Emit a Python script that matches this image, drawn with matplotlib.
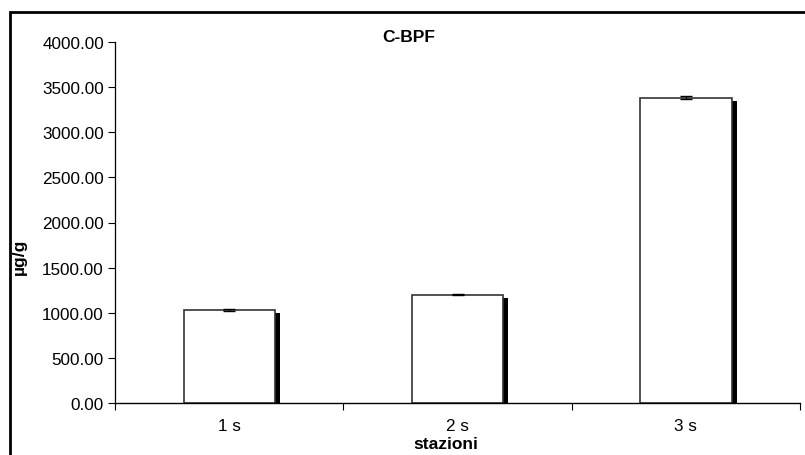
import matplotlib
matplotlib.use('Agg')
import matplotlib.pyplot as plt
import matplotlib.patches as mpatches
import matplotlib.patheffects as pe
import numpy as np

plt.rcParams['font.family'] = ['Liberation Sans', 'DejaVu Sans']

stations = ['1 s', '2 s', '3 s']
values = [1030.0, 1200.0, 3385.0]
errors = [8.0, 8.0, 15.0]
yticks = [0, 500, 1000, 1500, 2000, 2500, 3000, 3500, 4000]

fig = plt.figure(figsize=(8.05, 4.56), dpi=100)
ax = fig.add_axes([115/805, 1 - 404/456, 685/805, 361/456])

x = np.arange(len(stations))
bars = ax.bar(x, values, width=0.40, color='white', edgecolor='#333333',
              linewidth=1.2, zorder=2)
for b in bars:
    b.set_path_effects([pe.SimplePatchShadow(offset=(3.6, -2.2),
                                             shadow_rgbFace='black', alpha=1.0),
                        pe.Normal()])
ax.errorbar(x, values, yerr=errors, fmt='none', ecolor='black',
            elinewidth=0.8, capsize=4.5, capthick=1.0, zorder=3)

ax.set_xlim(-0.5, len(stations) - 0.5)
ax.set_ylim(0, 4000)
ax.set_yticks(yticks)
ax.set_yticklabels([f'{v:.2f}' for v in yticks], fontsize=12.3)
ax.tick_params(axis='y', direction='out', length=5, width=0.8, pad=3)

# tick marks on category boundaries, labels centred
ax.set_xticks(np.arange(len(stations) + 1) - 0.5)
ax.set_xticklabels([])
ax.tick_params(axis='x', which='major', direction='out', length=5, width=0.8)
ax.set_xticks(x, minor=True)
ax.set_xticklabels(stations, minor=True, fontsize=12.3)
ax.tick_params(axis='x', which='minor', length=0, pad=11)

for s in ['top', 'right']:
    ax.spines[s].set_visible(False)
ax.spines['left'].set_linewidth(0.9)
ax.spines['bottom'].set_linewidth(1.0)

fig.text(409/805, 1 - 38/456, 'C-BPF', ha='center', va='center',
         fontsize=12.5, fontweight='bold')
fig.text(446/805, 1 - 445/456, 'stazioni', ha='center', va='center',
         fontsize=12.5, fontweight='bold')
fig.text(19/805, 1 - 257/456, 'µg/g', ha='center', va='center',
         rotation=90, fontsize=12.5, fontweight='bold')

# outer chart frame
frame = mpatches.Rectangle((10/805, -0.1), 1.0, 1 - 13/456 + 0.1,
                           transform=fig.transFigure, fill=False,
                           edgecolor='black', linewidth=2.0)
fig.patches.append(frame)

fig.savefig('out.png', dpi=100)
